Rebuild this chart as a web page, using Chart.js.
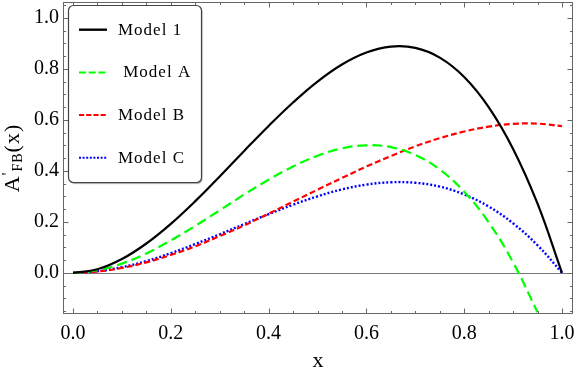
<!DOCTYPE html>
<html>
<head>
<meta charset="utf-8">
<script src="https://cdn.jsdelivr.net/npm/chart.js@4.4.1/dist/chart.umd.min.js"></script>
<style>
  html, body { margin: 0; padding: 0; background: #fff; }
  #wrap { width: 576px; height: 372px; position: relative; }
</style>
</head>
<body>
<div id="wrap"><canvas id="grafico"></canvas></div>
<script>
// valores
const xs = [0, 0.05, 0.1, 0.15, 0.2, 0.25, 0.3, 0.35, 0.4, 0.45, 0.5, 0.55, 0.6, 0.65, 0.7, 0.75, 0.8, 0.85, 0.9, 0.95, 1.0];
const model1 = [0, 0.014, 0.054, 0.115, 0.192, 0.281, 0.378, 0.478, 0.576, 0.668, 0.750, 0.817, 0.864, 0.887, 0.882, 0.844, 0.768, 0.650, 0.486, 0.271, 0];
const modelA = [0, 0.010, 0.036, 0.076, 0.127, 0.184, 0.245, 0.307, 0.365, 0.417, 0.459, 0.488, 0.500, 0.493, 0.462, 0.405, 0.318, 0.198, 0.041, -0.155, null];
const modelB = [0, 0.005, 0.019, 0.041, 0.070, 0.104, 0.144, 0.186, 0.232, 0.279, 0.326, 0.372, 0.417, 0.458, 0.496, 0.528, 0.554, 0.573, 0.584, 0.585, 0.575];
const modelC = [0, 0.006, 0.022, 0.046, 0.077, 0.113, 0.151, 0.191, 0.230, 0.267, 0.300, 0.327, 0.346, 0.355, 0.353, 0.338, 0.307, 0.260, 0.194, 0.108, 0];
const nomes = ["Model 1", " Model A", "Model B", "Model C"];
const xTicks = [0, 0.2, 0.4, 0.6, 0.8, 1.0];
const yTicks = [0, 0.2, 0.4, 0.6, 0.8, 1.0];

const SERIF = '"Liberation Serif", "Times New Roman", serif';

function pontos(ys) {
    return xs.map((x, i) => ({ x: x, y: ys[i] }));
}

// moldura estilo Mathematica, com ticks para dentro
const moldura = {
    id: "moldura",
    beforeDatasetsDraw(chart) {
        const { ctx, chartArea: a, scales: { y } } = chart;
        const y0 = Math.round(y.getPixelForValue(0)) + 0.5;
        ctx.save();
        ctx.strokeStyle = "#777";
        ctx.lineWidth = 1;
        ctx.beginPath();
        ctx.moveTo(a.left, y0);
        ctx.lineTo(a.right, y0);
        ctx.stroke();
        ctx.restore();
    },
    afterDatasetsDraw(chart) {
        const { ctx, chartArea: a, scales: { x, y } } = chart;
        const l = a.left + 0.5, r = a.right - 0.5, t = a.top + 0.5, b = a.bottom - 0.5;
        ctx.save();
        ctx.strokeStyle = "#666";
        ctx.lineWidth = 1;
        ctx.strokeRect(l, t, r - l, b - t);
        ctx.beginPath();
        for (let k = 0; k <= 20; k++) {
            const px = Math.round(x.getPixelForValue(k * 0.05)) + 0.5;
            const len = k % 4 === 0 ? 5 : 2.5;
            ctx.moveTo(px, b); ctx.lineTo(px, b - len);
            ctx.moveTo(px, t); ctx.lineTo(px, t + len);
        }
        for (let k = -3; k <= 21; k++) {
            const py = Math.round(y.getPixelForValue(k * 0.05)) + 0.5;
            const len = k % 4 === 0 ? 5 : 2.5;
            ctx.moveTo(l, py); ctx.lineTo(l + len, py);
            ctx.moveTo(r, py); ctx.lineTo(r - len, py);
        }
        ctx.stroke();
        ctx.restore();
    }
};

const amostras = [[], [7, 2.7], [5.2, 2], [2, 1.6]];

const legenda = {
    id: "legenda",
    afterDatasetsDraw(chart) {
        const ctx = chart.ctx;
        ctx.save();
        ctx.beginPath();
        ctx.roundRect(68.5, 5.5, 133, 177, 5);
        ctx.fillStyle = "#fff";
        ctx.shadowColor = "rgba(0,0,0,0.35)";
        ctx.shadowOffsetX = 1;
        ctx.shadowOffsetY = 1.5;
        ctx.shadowBlur = 1;
        ctx.fill();
        ctx.shadowColor = "transparent";
        ctx.strokeStyle = "#444";
        ctx.lineWidth = 1.2;
        ctx.stroke();
        chart.data.datasets.forEach((ds, i) => {
            const yy = 29.7 + i * 42.7;
            ctx.strokeStyle = ds.borderColor;
            ctx.lineWidth = i === 0 ? 2.4 : 2;
            ctx.setLineDash(amostras[i]);
            ctx.beginPath();
            ctx.moveTo(79, yy);
            ctx.lineTo(107, yy);
            ctx.stroke();
            ctx.setLineDash([]);
            ctx.fillStyle = "#000";
            ctx.font = "17px " + SERIF;
            ctx.letterSpacing = "1px";
            ctx.textBaseline = "alphabetic";
            ctx.fillText(ds.label, 118, yy + 4.8);
        });
        ctx.restore();
    }
};

const tituloY = {
    id: "tituloY",
    afterDraw(chart) {
        const ctx = chart.ctx;
        const partes = [
            { t: "A", f: "22px " + SERIF, dy: 0 },
            { t: "'", f: "16px " + SERIF, dy: -6 },
            { t: "FB", f: "14px " + SERIF, dy: 3 },
            { t: "(x)", f: "22px " + SERIF, dy: 0 }
        ];
        ctx.save();
        ctx.translate(19, 158);
        ctx.rotate(-Math.PI / 2);
        ctx.fillStyle = "#000";
        ctx.textBaseline = "alphabetic";
        ctx.letterSpacing = "1px";
        let total = 0;
        partes.forEach(p => { ctx.font = p.f; p.w = ctx.measureText(p.t).width; total += p.w; });
        let px = -total / 2;
        partes.forEach(p => { ctx.font = p.f; ctx.fillText(p.t, px, p.dy); px += p.w; });
        ctx.restore();
    }
};

const ctx = document.getElementById("grafico").getContext("2d");

let chart = new Chart(ctx, {
    type: "line",
    data: {
        datasets: [
            { label: nomes[0], data: pontos(model1), borderColor: "#000000", borderWidth: 2.2 },
            { label: nomes[1], data: pontos(modelA), borderColor: "#00ff00", borderWidth: 2.2, borderDash: [10, 5] },
            { label: nomes[2], data: pontos(modelB), borderColor: "#ff0000", borderWidth: 2.2, borderDash: [6, 3] },
            { label: nomes[3], data: pontos(modelC), borderColor: "#0000ff", borderWidth: 2.4, borderDash: [2, 2] }
        ]
    },
    options: {
        responsive: true,
        maintainAspectRatio: false,
        animation: false,
        layout: { padding: { top: 2, right: 3, left: 0, bottom: 0 } },
        plugins: { legend: { display: false }, tooltip: { enabled: false } },
        elements: {
            point: { radius: 0 },
            line: { tension: 0.4, fill: false }
        },
        scales: {
            x: {
                type: "linear",
                min: -0.0205,
                max: 1.0225,
                grid: { display: false, drawTicks: false },
                border: { display: false },
                afterFit: s => { s.height = 58; s.paddingLeft = 0; s.paddingRight = 0; },
                afterBuildTicks: s => { s.ticks = xTicks.map(v => ({ value: v })); },
                ticks: {
                    color: "#000",
                    font: { family: SERIF, size: 20 },
                    padding: 8,
                    maxRotation: 0,
                    autoSkip: false,
                    callback: v => v.toFixed(1)
                },
                title: {
                    display: true,
                    text: "x",
                    color: "#000",
                    font: { family: SERIF, size: 22 },
                    padding: { top: 0, bottom: -2 }
                }
            },
            y: {
                type: "linear",
                min: -0.1615,
                max: 1.062,
                grid: { display: false, drawTicks: false },
                border: { display: false },
                afterFit: s => { s.width = 63; s.paddingTop = 0; s.paddingBottom = 0; },
                afterBuildTicks: s => { s.ticks = yTicks.map(v => ({ value: v })); },
                ticks: {
                    color: "#000",
                    font: { family: SERIF, size: 20 },
                    padding: 4,
                    autoSkip: false,
                    callback: v => v.toFixed(1)
                }
            }
        }
    },
    plugins: [moldura, legenda, tituloY]
});
</script>
</body>
</html>
